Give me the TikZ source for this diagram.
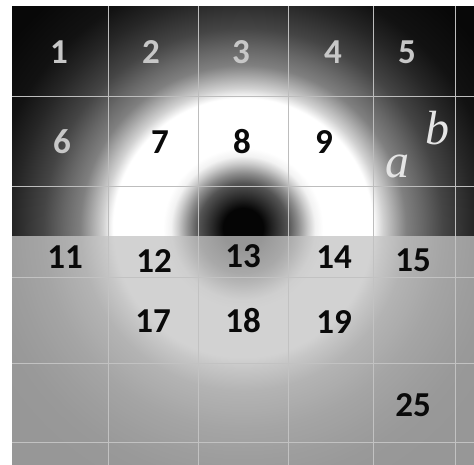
\documentclass[tikz,border=0pt]{standalone}
\usepackage{fontspec}
\setmainfont{Carlito}
\newfontfamily\abfont{Liberation Serif}
\definecolor{sA}{gray}{0.02}
\definecolor{sB}{gray}{0.15}
\definecolor{sC}{gray}{0.33}
\definecolor{sD}{gray}{0.55}
\definecolor{sE}{gray}{0.80}
\definecolor{sF}{gray}{0.95}
\definecolor{sG}{gray}{1.0}
\definecolor{sH}{gray}{0.82}
\definecolor{sI}{gray}{0.50}
\definecolor{sJ}{gray}{0.40}
\definecolor{sK}{gray}{0.27}
\definecolor{sL}{gray}{0.15}
\definecolor{sM}{gray}{0.07}
\definecolor{sN}{gray}{0.03}
\definecolor{bgdark}{gray}{0.03}
\definecolor{gridcol}{gray}{0.74}
\definecolor{overlaycol}{gray}{0.77}
\definecolor{numlight}{gray}{0.78}
\definecolor{numdark}{gray}{0.04}
\definecolor{abcol}{gray}{0.9}
\pgfdeclareradialshading{donut}{\pgfpoint{0bp}{0bp}}{%
color(0bp)=(sA); color(1.667bp)=(sA); color(2.5bp)=(sB); color(3.75bp)=(sC);
color(4.583bp)=(sD); color(5.417bp)=(sE); color(6bp)=(sF); color(6.667bp)=(sG);
color(10.833bp)=(sG); color(11.667bp)=(sH); color(13.583bp)=(sI); color(15bp)=(sJ);
color(16.667bp)=(sK); color(19.167bp)=(sL); color(21.25bp)=(sM); color(25bp)=(sN);
color(50bp)=(sN)}
\begin{document}
\begin{tikzpicture}[x=1pt,y=-1pt,
  num/.style={font=\bfseries\fontsize{35}{35}\selectfont, inner sep=0pt},
  lite/.style={num, text=numlight},
  dark/.style={num, text=numdark},
  ital/.style={font=\abfont\itshape\fontsize{48}{48}\selectfont, text=abcol, inner sep=0pt, anchor=base},
  gridline/.style={draw=gridcol, line width=0.9pt}]
\fill[white] (0,0) rectangle (474,464);
\useasboundingbox (0,0) rectangle (474,464);
\begin{scope}
  \clip (12,6) rectangle (482,472);
  \fill[bgdark] (12,6) rectangle (482,472);
  \shade[shading=donut] (243,228) circle (300);
  \foreach \x in {108,198,288,373,455} \draw[gridline] (\x,6) -- (\x,472);
  \foreach \y in {96,186,277,363,442} \draw[gridline] (12,\y) -- (482,\y);
  \fill[overlaycol, fill opacity=0.76] (12,236) rectangle (482,472);
\end{scope}
\node[lite] (n1) at (59,52) {1};
\node[lite] (n2) at (151,52) {2};
\node[lite] (n3) at (241,52) {3};
\node[lite] (n4) at (333,52) {4};
\node[lite] (n5) at (407,52) {5};
\node[lite] (n6) at (62,142) {6};
\node[dark] (n7) at (160,142) {7};
\node[dark] (n8) at (242,142) {8};
\node[dark] (n9) at (324,142) {9};
\node[dark] (n11) at (65,257) {11};
\node[dark] (n12) at (154,261) {12};
\node[dark] (n13) at (243,256) {13};
\node[dark] (n14) at (334,257) {14};
\node[dark] (n15) at (413,260) {15};
\node[dark] (n17) at (153,321) {17};
\node[dark] (n18) at (243,321) {18};
\node[dark] (n19) at (334,322) {19};
\node[dark] (n25) at (413,405) {25};
\node[ital] (la) at (397,177) {a};
\node[ital] (lb) at (437,144) {b};
\end{tikzpicture}
\end{document}
